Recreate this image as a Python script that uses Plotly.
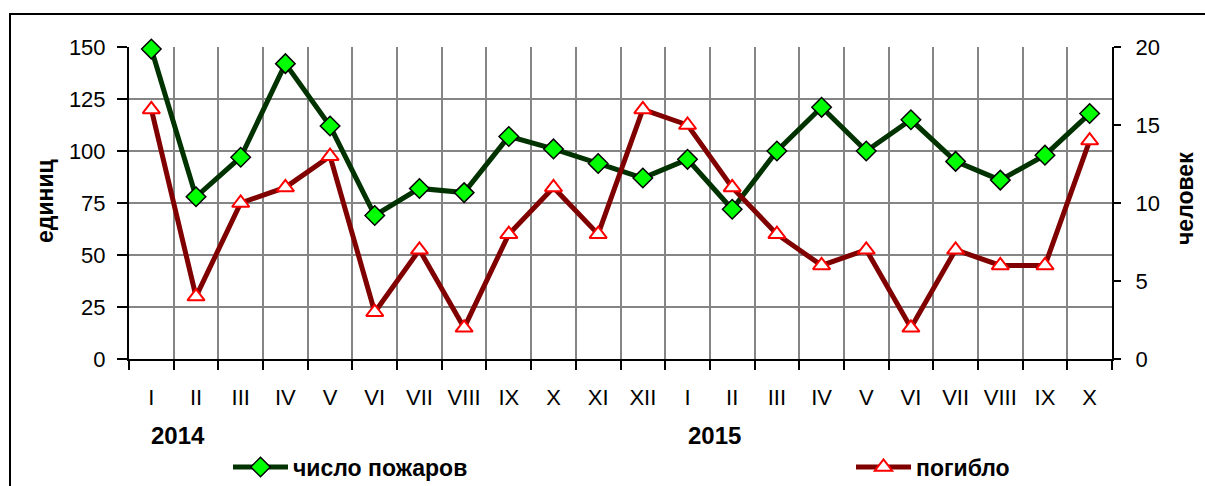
import plotly.graph_objects as go

# Monthly categories: Jan 2014 .. Oct 2015
months = ["I", "II", "III", "IV", "V", "VI", "VII", "VIII", "IX", "X", "XI", "XII",
          "I", "II", "III", "IV", "V", "VI", "VII", "VIII", "IX", "X"]
years = ["2014"] * 12 + ["2015"] * 10
categories = [f"{m} {y}" for m, y in zip(months, years)]

fires = [149, 78, 97, 142, 112, 69, 82, 80, 107, 101, 94, 87,
         96, 72, 100, 121, 100, 115, 95, 86, 98, 118]
deaths = [16, 4, 10, 11, 13, 3, 7, 2, 8, 11, 8, 16,
          15, 11, 8, 6, 7, 2, 7, 6, 6, 14]

W, H = 1205, 486
L, R, T, B = 129, 1112, 47, 359  # plot area in pixels
PW, PH = R - L, B - T


def px_x(p):
    return (p - L) / PW


def px_y(p):
    return (B - p) / PH


FONT = "Liberation Sans, Arial, sans-serif"
GRID = "#858585"

fig = go.Figure()

fig.add_trace(go.Scatter(
    x=categories, y=fires, name="число пожаров", mode="lines+markers",
    line=dict(color="#003300", width=5),
    marker=dict(symbol="diamond", size=15, color="#00ff00",
                line=dict(color="black", width=1.5)),
    legend="legend", cliponaxis=False,
))
fig.add_trace(go.Scatter(
    x=categories, y=deaths, name="погибло", mode="lines+markers", yaxis="y2",
    line=dict(color="#800000", width=5),
    marker=dict(symbol="triangle-up", size=15, color="white",
                line=dict(color="#ff0000", width=2)),
    legend="legend2", cliponaxis=False,
))

tickfont = dict(family=FONT, size=22, color="black")
legfont = dict(family=FONT, size=23, color="black", weight="bold")

fig.update_layout(
    width=W, height=H,
    margin=dict(l=L, r=W - R, t=T, b=H - B, autoexpand=False),
    paper_bgcolor="white", plot_bgcolor="white",
    font=dict(family=FONT, color="black"),
    showlegend=True,
    xaxis=dict(
        type="category", categoryorder="array", categoryarray=categories,
        tickmode="array", tickvals=categories, ticktext=months,
        tickson="boundaries", ticks="outside", ticklen=9, tickwidth=2,
        tickcolor="black", showline=True, linecolor="black", linewidth=2,
        showgrid=True, gridcolor=GRID, gridwidth=1.5,
        tickfont=tickfont, ticklabelstandoff=18, range=[-0.5, 21.5],
        zeroline=False,
    ),
    xaxis2=dict(
        overlaying="x", anchor="y", range=[-0.5, 21.5], tick0=-0.5, dtick=1,
        ticks="inside", ticklen=6, tickwidth=2, tickcolor="black",
        showticklabels=False, showgrid=False, showline=False, zeroline=False,
    ),
    yaxis=dict(
        range=[0, 150], dtick=25, ticks="outside", ticklen=10, tickwidth=2,
        tickcolor="black", showline=True, linecolor="black", linewidth=2,
        showgrid=True, gridcolor=GRID, gridwidth=1.5, zeroline=False,
        tickfont=tickfont, ticklabelstandoff=7,
    ),
    yaxis3=dict(
        overlaying="y", anchor="x", side="left", range=[0, 150], dtick=25,
        ticks="inside", ticklen=7, tickwidth=2, tickcolor="black",
        showticklabels=False, showgrid=False, showline=False, zeroline=False,
    ),
    yaxis2=dict(
        overlaying="y", side="right", anchor="x", range=[0, 20], dtick=5,
        ticks="outside", ticklen=7, tickwidth=2, tickcolor="black",
        showline=True, linecolor="black", linewidth=2, showgrid=False,
        zeroline=False, tickfont=tickfont, ticklabelstandoff=10,
    ),
    yaxis4=dict(
        overlaying="y", side="right", anchor="x", range=[0, 20], dtick=5,
        ticks="inside", ticklen=9, tickwidth=2, tickcolor="black",
        showticklabels=False, showgrid=False, showline=False, zeroline=False,
    ),
    legend=dict(
        orientation="h", x=px_x(228), xanchor="left", y=px_y(467),
        yanchor="middle", itemwidth=55, bgcolor="rgba(0,0,0,0)",
        font=legfont,
    ),
    legend2=dict(
        orientation="h", x=px_x(851), xanchor="left", y=px_y(467),
        yanchor="middle", itemwidth=55, bgcolor="rgba(0,0,0,0)",
        font=legfont,
    ),
)

# Outer frame around the chart
fig.add_shape(type="rect", xref="paper", yref="paper",
              x0=px_x(10), x1=px_x(1225), y0=px_y(520), y1=px_y(14),
              line=dict(color="black", width=2), fillcolor="rgba(0,0,0,0)",
              layer="above")

# Axis titles
fig.add_annotation(text="<b>единиц</b>", xref="paper", yref="paper",
                   x=px_x(45), y=px_y(201), xanchor="center", yanchor="middle",
                   textangle=-90, showarrow=False,
                   font=dict(family=FONT, size=23, color="black"))
fig.add_annotation(text="<b>человек</b>", xref="paper", yref="paper",
                   x=px_x(1185), y=px_y(199), xanchor="center", yanchor="middle",
                   textangle=-90, showarrow=False,
                   font=dict(family=FONT, size=23, color="black"))

# Year labels under the first month of each year
for yr in ["2014", "2015"]:
    first = categories[years.index(yr)]
    fig.add_annotation(text=f"<b>{yr}</b>", xref="x", yref="paper",
                       x=first, y=px_y(435), xanchor="left", yanchor="middle",
                       showarrow=False, xshift=-2,
                       font=dict(family=FONT, size=24, color="black"))

fig.write_html("out.html")
